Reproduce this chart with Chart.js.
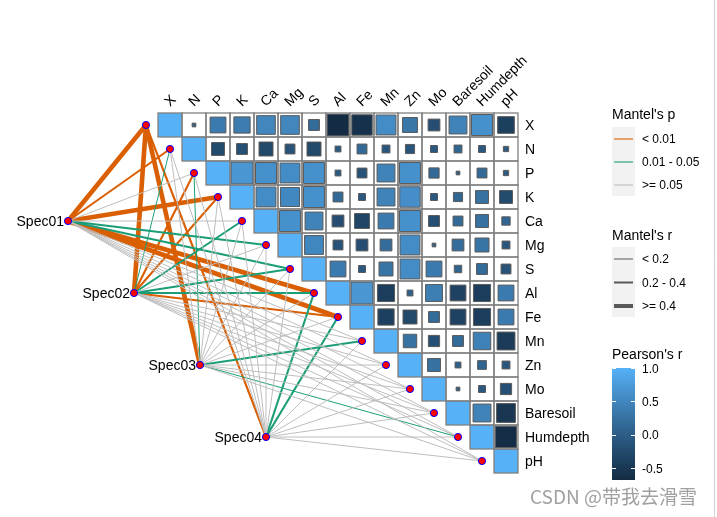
<!DOCTYPE html>
<html><head><meta charset="utf-8">
<script src="https://cdn.jsdelivr.net/npm/chart.js@4/dist/chart.umd.min.js"></script>
<style>html,body{margin:0;padding:0;background:#fff;}canvas{display:block;}</style>
</head><body>
<canvas id="c" width="717" height="517"></canvas>
<script>
// ---------- data ----------
const variables = ['X','N','P','K','Ca','Mg','S','Al','Fe','Mn','Zn','Mo','Baresoil','Humdepth','pH'];
const specNames = ['Spec01','Spec02','Spec03','Spec04'];

// Pearson's r, upper triangle: each row lists the columns to the right of the diagonal
const rX        = [0.02, 0.36, 0.38, 0.50, 0.50, 0.17, -0.68, -0.60, 0.57, 0.32, -0.20, 0.46, 0.63, -0.40];
const rN        = [-0.24, -0.17, -0.28, -0.14, -0.28, -0.05, 0.14, -0.09, -0.12, -0.07, 0.09, -0.07, -0.04];
const rP        = [0.69, 0.63, 0.57, 0.63, -0.05, -0.14, 0.46, 0.63, 0.15, -0.02, 0.14, -0.04];
const rK        = [0.57, 0.52, 0.63, 0.14, -0.07, 0.46, 0.60, -0.07, 0.12, 0.24, -0.24];
const rCa       = [0.63, 0.46, -0.20, -0.32, 0.36, 0.63, -0.17, 0.14, 0.24, 0.10];
const rMg       = [0.51, -0.14, -0.20, 0.20, 0.57, 0.02, 0.20, 0.28, -0.09];
const rS        = [0.36, -0.07, 0.28, 0.57, 0.36, 0.08, 0.17, -0.14];
const rAl       = [0.69, -0.42, 0.05, 0.41, -0.36, -0.42, 0.36];
const rFe       = [-0.38, -0.28, 0.17, -0.36, -0.42, 0.36];
const rMn       = [0.26, -0.18, 0.17, 0.44, -0.46];
const rZn       = [0.24, 0.05, 0.11, -0.09];
const rMo       = [-0.02, -0.07, -0.18];
const rBaresoil = [0.46, -0.51];
const rHumdepth = [-0.66];
const corrRows = [rX, rN, rP, rK, rCa, rMg, rS, rAl, rFe, rMn, rZn, rMo, rBaresoil, rHumdepth, []];

// Mantel test results (r and p) of each species group against each variable
const mantelR01 = [0.55, 0.30, 0.12, 0.50, 0.10, 0.25, 0.25, 0.50, 0.50, 0.08, 0.06, 0.05, 0.10, 0.08, 0.06];
const mantelP01 = [0.001, 0.004, 0.15, 0.001, 0.20, 0.03, 0.02, 0.001, 0.001, 0.40, 0.50, 0.60, 0.30, 0.40, 0.50];
const mantelR02 = [0.52, 0.15, 0.28, 0.28, 0.24, 0.10, 0.24, 0.26, 0.30, 0.08, 0.06, 0.05, 0.10, 0.08, 0.06];
const mantelP02 = [0.001, 0.03, 0.006, 0.007, 0.02, 0.20, 0.03, 0.015, 0.005, 0.30, 0.40, 0.50, 0.30, 0.40, 0.50];
const mantelR03 = [0.48, 0.08, 0.15, 0.10, 0.06, 0.05, 0.07, 0.10, 0.10, 0.25, 0.06, 0.05, 0.08, 0.15, 0.06];
const mantelP03 = [0.001, 0.30, 0.04, 0.20, 0.40, 0.50, 0.40, 0.20, 0.20, 0.02, 0.50, 0.60, 0.30, 0.04, 0.40];
const mantelR04 = [0.30, 0.06, 0.08, 0.07, 0.05, 0.05, 0.06, 0.25, 0.22, 0.08, 0.05, 0.05, 0.06, 0.07, 0.06];
const mantelP04 = [0.008, 0.50, 0.30, 0.40, 0.50, 0.60, 0.50, 0.02, 0.03, 0.30, 0.50, 0.60, 0.50, 0.40, 0.50];
const mantelR = [mantelR01, mantelR02, mantelR03, mantelR04];
const mantelP = [mantelP01, mantelP02, mantelP03, mantelP04];

const pLabels = ['< 0.01', '0.01 - 0.05', '>= 0.05'];
const rLabels = ['< 0.2', '0.2 - 0.4', '>= 0.4'];
const pearsonTicks = [1.0, 0.5, 0.0, -0.5];
const pearsonTickLabels = ['1.0', '0.5', '0.0', '-0.5'];

// ---------- styles / layout ----------
const pColors = ['#D95F02', '#1B9E77', '#BEBEBE'];
const rWidths = [1, 2.1, 4.6];
const lowCol = '#132B43', highCol = '#56B1F7';
const CELL = 24, X0 = 170, Y0 = 125, W = 717, H = 517;
// species node placement in cell units
const specLayout = [[-4.25, 4], [-1.5, 7], [1.25, 10], [4, 13]];
const FONT = '"Liberation Sans", Arial, sans-serif';

// ---------- colour scale (CIELAB interpolation like ggplot) ----------
function hex2rgb(h){return [parseInt(h.slice(1,3),16),parseInt(h.slice(3,5),16),parseInt(h.slice(5,7),16)];}
function lin(c){c/=255;return c<=0.04045?c/12.92:Math.pow((c+0.055)/1.055,2.4);}
function unlin(c){const v=c<=0.0031308?12.92*c:1.055*Math.pow(c,1/2.4)-0.055;return Math.round(Math.max(0,Math.min(1,v))*255);}
function rgb2lab(rgb){
  const r=lin(rgb[0]),g=lin(rgb[1]),b=lin(rgb[2]);
  const X=(0.4124*r+0.3576*g+0.1805*b)/0.95047,Y=(0.2126*r+0.7152*g+0.0722*b),Z=(0.0193*r+0.1192*g+0.9505*b)/1.08883;
  const f=t=>t>0.008856?Math.cbrt(t):7.787*t+16/116;
  const fx=f(X),fy=f(Y),fz=f(Z);
  return [116*fy-16,500*(fx-fy),200*(fy-fz)];
}
function lab2rgb(l){
  const fy=(l[0]+16)/116,fx=fy+l[1]/500,fz=fy-l[2]/200;
  const fi=t=>{const t3=t*t*t;return t3>0.008856?t3:(t-16/116)/7.787;};
  const X=fi(fx)*0.95047,Y=fi(fy),Z=fi(fz)*1.08883;
  const r=3.2406*X-1.5372*Y-0.4986*Z,g=-0.9689*X+1.8758*Y+0.0415*Z,b=0.0557*X-0.2040*Y+1.0570*Z;
  return 'rgb('+unlin(r)+','+unlin(g)+','+unlin(b)+')';
}
const labLow=rgb2lab(hex2rgb(lowCol)), labHigh=rgb2lab(hex2rgb(highCol));
const allR = corrRows.flat().concat([1]);
const vMin = Math.min(...allR), vMax = Math.max(...allR);
function fillColor(v){
  let t=(v-vMin)/(vMax-vMin); t=Math.max(0,Math.min(1,t));
  return lab2rgb([0,1,2].map(k=>labLow[k]+(labHigh[k]-labLow[k])*t));
}
function pClass(p){return p<0.01?0:(p<0.05?1:2);}
function rClass(r){return r<0.2?0:(r<0.4?1:2);}
function cellPx(chart){const xs=chart.scales.x;return Math.abs(xs.getPixelForValue(1)-xs.getPixelForValue(0));}

// ---------- datasets ----------
const datasets = [];
// links
specNames.forEach((s, si) => {
  variables.forEach((v, vi) => {
    const pc = pClass(mantelP[si][vi]), rc = rClass(mantelR[si][vi]);
    datasets.push({
      label: s + '-' + v, showLine: true,
      data: [{x: specLayout[si][0], y: specLayout[si][1]}, {x: vi - 1, y: vi}],
      borderColor: pColors[pc], borderWidth: rWidths[rc], pointRadius: 0,
      order: 30 - pc * 10 + (2 - rc)
    });
  });
});
// diagonal tiles
datasets.push({
  label: 'diag', data: variables.map((v, i) => ({x: i, y: i})),
  pointStyle: 'rect', pointRadius: ctx => cellPx(ctx.chart) / Math.SQRT2,
  backgroundColor: fillColor(1), borderWidth: 0, order: 5
});
// correlation squares
const sq = [];
corrRows.forEach((row, i) => row.forEach((r, k) => sq.push({x: i + 1 + k, y: i, r: r})));
datasets.push({
  label: 'corr', data: sq, pointStyle: 'rect',
  pointRadius: ctx => { const r = ctx.raw ? ctx.raw.r : 0; const c = cellPx(ctx.chart); return Math.min(c, c * 1.1 * Math.sqrt(Math.abs(r))) / Math.SQRT2; },
  backgroundColor: ctx => ctx.raw ? fillColor(ctx.raw.r) : '#000',
  borderColor: '#5a5a5a', borderWidth: 1, order: 4
});
// nodes
datasets.push({
  label: 'envNodes', data: variables.map((v, i) => ({x: i - 1, y: i})),
  pointRadius: 3.6, backgroundColor: '#FF0000', borderColor: '#0000FF', borderWidth: 1, order: 1
});
datasets.push({
  label: 'specNodes', data: specLayout.map(p => ({x: p[0], y: p[1]})),
  pointRadius: 3.6, backgroundColor: '#FF0000', borderColor: '#0000FF', borderWidth: 1, order: 1
});

// ---------- decorations ----------
const deco = {
  id: 'deco',
  afterDatasetsDraw(chart) {
    const {ctx, scales: {x, y}} = chart;
    const n = variables.length;
    ctx.save();
    ctx.strokeStyle = '#808080'; ctx.lineWidth = 1.3;
    for (let i = 0; i < n; i++) for (let j = i; j < n; j++) {
      const x0 = x.getPixelForValue(j - 0.5), x1 = x.getPixelForValue(j + 0.5);
      const y0 = y.getPixelForValue(i - 0.5), y1 = y.getPixelForValue(i + 0.5);
      ctx.strokeRect(x0, y0, x1 - x0, y1 - y0);
    }
    ctx.restore();
  },
  afterDraw(chart) {
    const {ctx, scales: {x, y}} = chart;
    const n = variables.length;
    ctx.save();
    ctx.fillStyle = '#000';
    ctx.font = '14px ' + FONT;
    // column labels (rotated)
    const topY = y.getPixelForValue(-0.5) - 6;
    variables.forEach((v, i) => {
      ctx.save();
      ctx.translate(x.getPixelForValue(i), topY);
      ctx.rotate(-Math.PI / 4);
      ctx.textAlign = 'left'; ctx.textBaseline = 'alphabetic';
      ctx.fillText(v, 0, 0);
      ctx.restore();
    });
    // row labels
    ctx.textAlign = 'left'; ctx.textBaseline = 'middle';
    const rx = x.getPixelForValue(n - 0.5) + 7;
    variables.forEach((v, i) => ctx.fillText(v, rx, y.getPixelForValue(i) + 1));
    // species labels
    ctx.textAlign = 'right';
    specNames.forEach((s, i) => ctx.fillText(s, x.getPixelForValue(specLayout[i][0]) - 4, y.getPixelForValue(specLayout[i][1]) + 1));

    // legends
    const lx = 612, kw = 23, tx = 642;
    ctx.textAlign = 'left'; ctx.textBaseline = 'alphabetic';
    ctx.font = '14px ' + FONT;
    ctx.fillText("Mantel's p", lx, 119);
    ctx.fillText("Mantel's r", lx, 240);
    ctx.fillText("Pearson's r", lx, 359);
    // p keys
    ctx.fillStyle = '#F2F2F2';
    ctx.fillRect(lx, 127, kw, 69);
    ctx.fillRect(lx, 247, kw, 70);
    ctx.font = '12px ' + FONT; ctx.textBaseline = 'middle';
    pLabels.forEach((t, k) => {
      const yy = 139 + k * 23;
      ctx.strokeStyle = pColors[k]; ctx.lineWidth = 1.1;
      ctx.beginPath(); ctx.moveTo(lx + 2, yy); ctx.lineTo(lx + kw - 2, yy); ctx.stroke();
      ctx.fillStyle = '#000'; ctx.fillText(t, tx, yy + 1);
    });
    rLabels.forEach((t, k) => {
      const yy = 259 + k * 23.5;
      ctx.strokeStyle = '#595959'; ctx.lineWidth = [1, 2, 4][k];
      ctx.beginPath(); ctx.moveTo(lx + 2, yy); ctx.lineTo(lx + kw - 2, yy); ctx.stroke();
      ctx.fillStyle = '#000'; ctx.fillText(t, tx, yy + 1);
    });
    // colour bar
    const bTop = 368, bBot = 480;
    const vy = v => bTop + (vMax - v) / (vMax - vMin) * (bBot - bTop);
    for (let py = bTop; py < bBot; py++) {
      const v = vMax - (py + 0.5 - bTop) / (bBot - bTop) * (vMax - vMin);
      ctx.fillStyle = fillColor(v);
      ctx.fillRect(lx, py, kw, 1);
    }
    ctx.strokeStyle = '#fff'; ctx.lineWidth = 1;
    pearsonTicks.forEach((v, k) => {
      const yy = Math.round(vy(v)) + 0.5;
      ctx.beginPath();
      ctx.moveTo(lx, yy); ctx.lineTo(lx + 4, yy);
      ctx.moveTo(lx + kw - 4, yy); ctx.lineTo(lx + kw, yy);
      ctx.stroke();
      ctx.fillStyle = '#000';
      ctx.fillText(pearsonTickLabels[k], tx, vy(v) + 1.5);
    });
    // right border line
    ctx.strokeStyle = '#D4D4D4'; ctx.lineWidth = 1;
    ctx.beginPath(); ctx.moveTo(714.5, 0); ctx.lineTo(714.5, H); ctx.stroke();
    // watermark
    ctx.font = '19px "Noto Sans CJK SC", sans-serif';
    ctx.fillStyle = '#a0a0a0'; ctx.textAlign = 'left'; ctx.textBaseline = 'middle';
    ctx.fillText('CSDN @带我去滑雪', 530, 497);
    ctx.restore();
  }
};

new Chart(document.getElementById('c'), {
  type: 'scatter',
  data: {datasets},
  options: {
    responsive: false, animation: false, events: [],
    layout: {padding: 0, autoPadding: false},
    plugins: {legend: {display: false}, tooltip: {enabled: false}},
    scales: {
      x: {type: 'linear', display: false, min: -X0 / CELL, max: (W - X0) / CELL},
      y: {type: 'linear', display: false, reverse: true, min: -Y0 / CELL, max: (H - Y0) / CELL}
    }
  },
  plugins: [deco]
});
</script>
</body></html>
